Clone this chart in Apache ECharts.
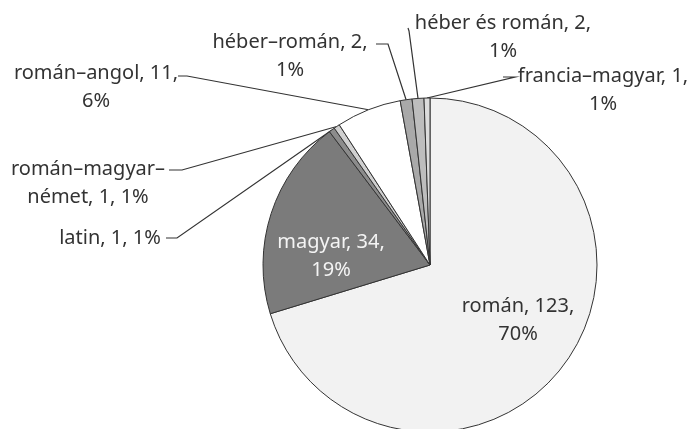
<!DOCTYPE html>
<html>
<head>
<meta charset="utf-8">
<script src="https://cdn.jsdelivr.net/npm/echarts@6/dist/echarts.min.js"></script>
<style>
  html, body { margin: 0; padding: 0; background: #fff; }
  #main { width: 695px; height: 429px; }
</style>
</head>
<body>
<div id="main"></div>
<script>
var names = ['román', 'magyar', 'latin', 'román–magyar–német', 'román–angol', 'héber–román', 'héber és román', 'francia–magyar'];
var values = [123, 34, 1, 1, 11, 2, 2, 1];
// where each label breaks: before the percent, inside the name, or not at all
var wraps = ['pct', 'pct', 'none', 'name', 'pct', 'pct', 'pct', 'pct'];

var sliceColors = ['#f2f2f2', '#7b7b7b', '#8c8c8c', '#d0d0d0', '#ffffff', '#a9a9a9', '#bdbdbd', '#dcdcdc'];

// label centres and leader line bend/end points
var spots = [
  { x: 518, y: 320 },
  { x: 331, y: 256 },
  { x: 110, y: 238, line: [[177, 238], [166, 238]] },
  { x: 88, y: 183, line: [[182, 170], [169, 170]] },
  { x: 96, y: 87, line: [[187, 76], [178, 76]] },
  { x: 290, y: 56, line: [[388, 44], [376, 44]] },
  { x: 503, y: 37, line: [[409, 31], [408, 28]] },
  { x: 603, y: 90, line: [[515, 77], [503, 77]] }
];

var chartDom = document.getElementById('main');
var myChart = echarts.init(chartDom);

var data = names.map(function (n, i) {
  var item = { name: n, value: values[i], itemStyle: { color: sliceColors[i] } };
  if (i < 2) {
    item.label = { position: 'inside', color: i === 1 ? '#f4f4f4' : '#333' };
    item.labelLine = { show: false };
  }
  return item;
});

var option = {
  animation: false,
  series: [
    {
      type: 'pie',
      center: [430, 265],
      radius: 167,
      startAngle: 90,
      clockwise: true,
      percentPrecision: 0,
      avoidLabelOverlap: false,
      itemStyle: { borderColor: '#333', borderWidth: 1 },
      label: {
        show: true,
        position: 'outside',
        fontFamily: 'Noto Sans',
        fontSize: 20,
        lineHeight: 28,
        color: '#333',
        align: 'center',
        formatter: function (p) {
          var w = wraps[p.dataIndex];
          if (w === 'name') {
            return 'román–magyar–\nnémet, ' + p.value + ', ' + p.percent + '%';
          }
          if (w === 'none') {
            return p.name + ', ' + p.value + ', ' + p.percent + '%';
          }
          return p.name + ', ' + p.value + ',\n' + p.percent + '%';
        }
      },
      labelLine: {
        show: true,
        lineStyle: { color: '#333', width: 1.2 }
      },
      labelLayout: function (params) {
        var s = spots[params.dataIndex];
        var res = { x: s.x, y: s.y, align: 'center', verticalAlign: 'middle' };
        if (s.line && params.labelLinePoints) {
          res.labelLinePoints = [params.labelLinePoints[0], s.line[0], s.line[1]];
        }
        return res;
      },
      emphasis: { disabled: true },
      data: data
    }
  ]
};

if (chartDom && myChart) {
  myChart.setOption(option);
} else {
  console.error('Failed to initialize the chart');
}
</script>
</body>
</html>
